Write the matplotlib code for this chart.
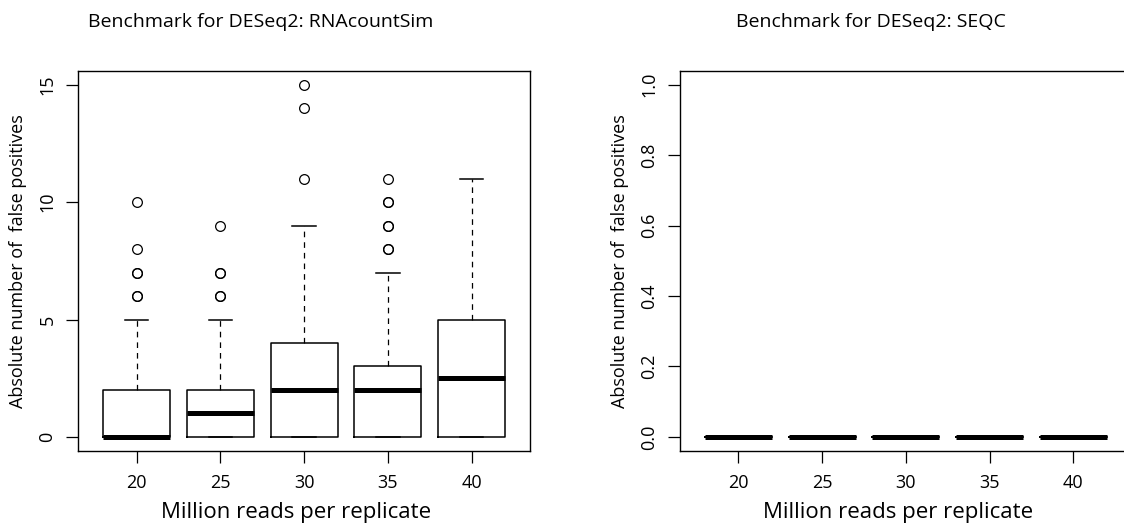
import matplotlib.pyplot as plt

plt.rcParams['font.family'] = ['Open Sans', 'DejaVu Sans']

reads = [20, 25, 30, 35, 40]

# RNAcountSim: box statistics
sim_q1 = [0, 0, 0, 0, 0]
sim_med = [0, 1, 2, 2, 2.5]
sim_q3 = [2, 2, 4, 3, 5]
sim_lo = [0, 0, 0, 0, 0]
sim_hi = [5, 5, 9, 7, 11]
sim_out = [[6, 6, 7, 7, 8, 10],
           [6, 6, 7, 7, 9],
           [11, 14, 15],
           [8, 8, 9, 9, 10, 10, 11],
           []]

# SEQC: no false positives at all
seqc_vals = [0, 0, 0, 0, 0]

W, H = 1124, 524


def make_stats(q1, med, q3, lo, hi, out):
    stats = []
    for i in range(len(med)):
        stats.append(dict(q1=q1[i], med=med[i], q3=q3[i],
                          whislo=lo[i], whishi=hi[i], fliers=out[i]))
    return stats


def draw(ax, stats, ylim, yticks, yfmt):
    ax.bxp(stats, positions=range(1, len(stats) + 1), widths=0.8,
           capwidths=0.28, showfliers=True,
           boxprops=dict(color='black', linewidth=1.1),
           whiskerprops=dict(color='black', linewidth=0.9, linestyle=(0, (4.5, 4))),
           capprops=dict(color='black', linewidth=1.1),
           medianprops=dict(color='black', linewidth=3.6, solid_capstyle='butt'),
           flierprops=dict(marker='o', markerfacecolor='none', markeredgecolor='black',
                           markersize=7, markeredgewidth=0.9))
    ax.set_xlim(0.3, 5.7)
    ax.set_ylim(*ylim)
    ax.set_xticks(range(1, 6))
    ax.set_xticklabels([str(r) for r in reads])
    ax.set_yticks(yticks)
    ax.set_yticklabels([yfmt.format(v) for v in yticks], rotation=90, va='center')
    ax.tick_params(direction='out', length=8.6, width=0.9, labelsize=13, pad=7)
    ax.tick_params(axis='x', pad=8)
    for s in ax.spines.values():
        s.set_linewidth(1.0)
    ax.set_ylabel('Absolute number of  false positives', fontsize=13)
    ax.yaxis.set_label_coords(-0.113, 0.5)


fig = plt.figure(figsize=(W / 100, H / 100), dpi=100)

ax1 = fig.add_axes([78 / W, 1 - 451 / H, 452.25 / W, 380.3 / H])
draw(ax1, make_stats(sim_q1, sim_med, sim_q3, sim_lo, sim_hi, sim_out),
     (-0.6, 15.6), [0, 5, 10, 15], '{:d}')

ax2 = fig.add_axes([679.7 / W, 1 - 451 / H, 452.25 / W, 380.3 / H])
draw(ax2, make_stats(seqc_vals, seqc_vals, seqc_vals, seqc_vals, seqc_vals,
                     [[] for _ in seqc_vals]),
     (-0.04, 1.04), [0.0, 0.2, 0.4, 0.6, 0.8, 1.0], '{:.1f}')

fig.text(88 / W, 1 - 27 / H, 'Benchmark for DESeq2: RNAcountSim', fontsize=14, ha='left', va='baseline')
fig.text(736 / W, 1 - 27 / H, 'Benchmark for DESeq2: SEQC', fontsize=14, ha='left', va='baseline')
fig.text(296 / W, 1 - 518 / H, 'Million reads per replicate', fontsize=16, ha='center', va='baseline')
fig.text(898 / W, 1 - 518 / H, 'Million reads per replicate', fontsize=16, ha='center', va='baseline')

fig.savefig('out.png', dpi=100)
